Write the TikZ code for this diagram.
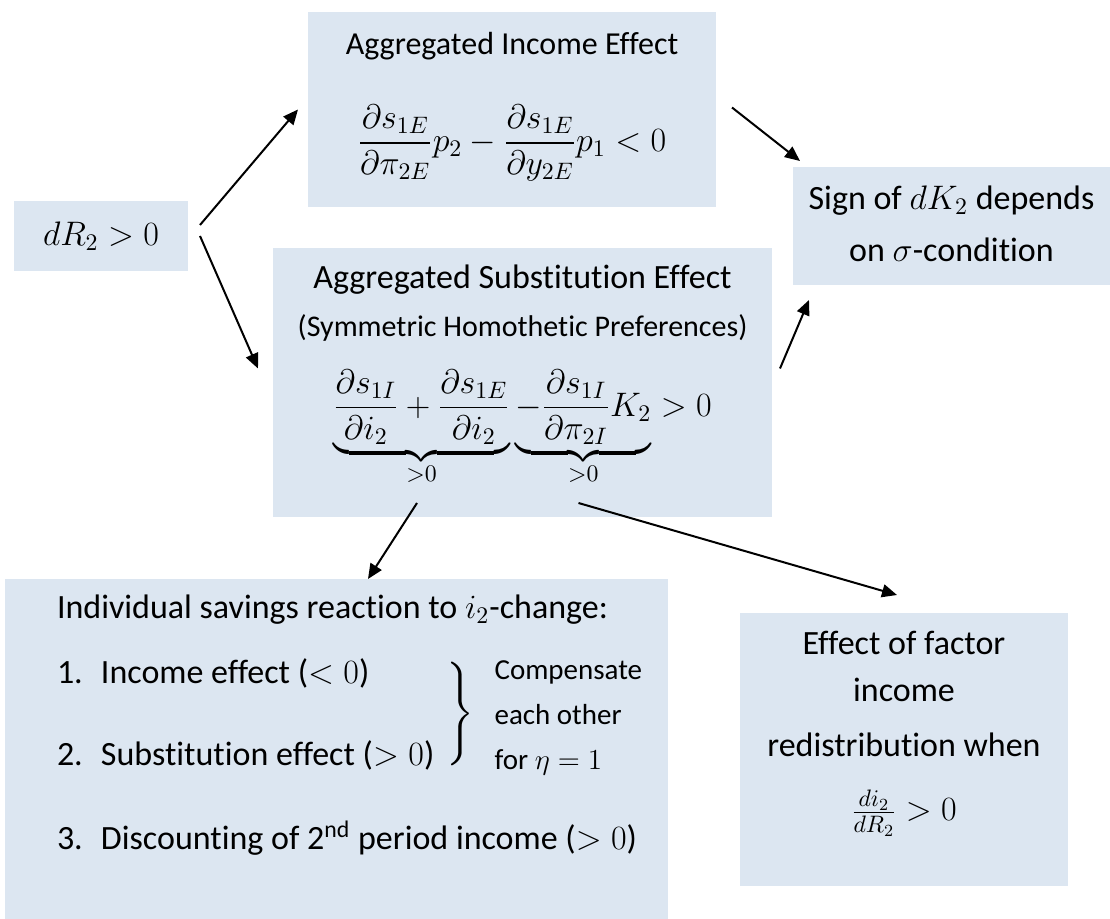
\documentclass[tikz,border=0pt]{standalone}
\usepackage{fix-cm}
\usepackage{amsmath}
\usepackage{fontspec}
\setmainfont{Carlito}[Ligatures=CommonOff]
\usetikzlibrary{arrows.meta}
\definecolor{panelBlue}{HTML}{DCE6F1}

% box body: width, height, top skip, content
\newcommand{\panelText}[4]{\begin{minipage}[c][#2][t]{#1}\centering\vspace*{#3}#4\par\end{minipage}}
\newcommand{\mathBig}{\fontsize{17}{20}\selectfont}

\begin{document}
\begin{tikzpicture}[x=0.5pt,y=-0.5pt,font=\fontsize{17}{26}\selectfont,
    panel/.style={fill=panelBlue, inner sep=0pt, outer sep=0pt},
    flow/.style={-{Triangle[length=7.5pt,width=6.5pt]}, line width=1pt}]
    \useasboundingbox (0,0) rectangle (1110,919);

    % Shock
    \node[panel, minimum width=87pt, minimum height=35pt] (dR) at (101,236) {\mathBig$dR_2>0$};

    % Aggregated income effect
    \node[panel] (inc) at (512,109.5) {\panelText{204pt}{97.5pt}{10pt}{{\fontsize{16}{25}\selectfont Aggregated Income Effect}\\[21.5pt]
        {\mathBig$\displaystyle\frac{\partial s_{1E}}{\partial \pi_{2E}}p_2-\frac{\partial s_{1E}}{\partial y_{2E}}p_1<0$}}};

    % Aggregated substitution effect
    \node[panel] (sub) at (522.5,382.5) {\panelText{249.5pt}{134.5pt}{8.3pt}{Aggregated Substitution Effect\\[-2pt]
        {\fontsize{15}{20}\selectfont(Symmetric Homothetic Preferences)}\\[14pt]
        {\mathBig$\displaystyle\underbrace{\frac{\partial s_{1I}}{\partial i_2}+\frac{\partial s_{1E}}{\partial i_2}}_{>0}\underbrace{-\frac{\partial s_{1I}}{\partial \pi_{2I}}K_2}_{>0}>0$}}};

    % Result
    \node[panel] (sign) at (951.5,226) {\panelText{158.5pt}{59pt}{9.3pt}{Sign of $dK_2$ depends\\[0pt]
        on $\sigma$-condition}};

    % Individual reaction
    \node[panel] (ind) at (336.5,749) {\begin{minipage}[c][170pt][t]{331.5pt}
        \raggedright\leftskip=26pt\vspace*{7.8pt}
        Individual savings reaction to $i_2$-change:\\[10.5pt]
        \begin{tabular}{@{}l@{}}\makebox[22pt][l]{1.}Income effect ($<0$)\\[15pt]
            \makebox[22pt][l]{2.}Substitution effect ($>0$)\end{tabular}\hspace{5pt}%
        $\left.\vrule height 29.75pt depth 21.25pt width 0pt\right\}$\hspace{10pt}%
        {\fontsize{14.5}{22.5}\selectfont\begin{tabular}{@{}l@{}}Compensate\\each other\\for $\eta=1$\end{tabular}}\\[18pt]
        \makebox[22pt][l]{3.}Discounting of 2\textsuperscript{nd} period income ($>0$)\par
    \end{minipage}};

    % Redistribution
    \node[panel] (eff) at (904,749.5) {\panelText{164pt}{136.5pt}{9.3pt}{Effect of factor\\[-2.5pt]
        income\\[1.5pt]
        redistribution when\\[6pt]
        {\mathBig$\frac{di_2}{dR_2}>0$}}};

    % Arrows
    \draw[flow] ([xshift=6pt,yshift=5.5pt]dR.east) -- ([xshift=-5pt]inc.west);
    \draw[flow] ([xshift=6pt]dR.east) -- ([xshift=-7.5pt,yshift=7pt]sub.west);
    \draw[flow] ([xshift=8pt,yshift=1pt]inc.east) -- ([xshift=3.5pt,yshift=3pt]sign.north west);
    \draw[flow] ([xshift=4pt,yshift=7pt]sub.east) -- ([xshift=8pt,yshift=-7.5pt]sign.south west);
    \draw[flow] ([xshift=72pt,yshift=7pt]sub.south west) -- ([xshift=15.75pt]ind.north);
    \draw[flow] ([xshift=28pt,yshift=7pt]sub.south) -- ([xshift=-3.5pt,yshift=9pt]eff.north);
\end{tikzpicture}
\end{document}
